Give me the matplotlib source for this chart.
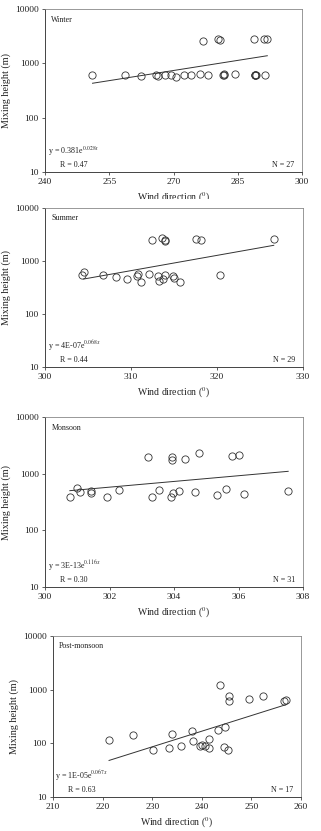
import matplotlib
matplotlib.use("Agg")
import matplotlib.pyplot as plt
from matplotlib.patches import Rectangle

plt.rcParams['font.family'] = ['Liberation Serif', 'DejaVu Serif']
plt.rcParams['mathtext.fontset'] = 'stix'

# Winter
winter_x = [251.0, 258.7, 262.5, 266.0, 266.4, 268.0, 269.5, 270.5, 272.4, 274.2, 276.1, 276.9,
            278.1, 280.5, 280.8, 281.6, 281.7, 284.4, 288.7, 289.0, 289.2, 289.1, 291.3, 291.1,
            291.8, 281.7, 289.1]
winter_y = [600, 600, 590, 620, 590, 620, 620, 550, 600, 620, 640, 2570,
            610, 2760, 2720, 620, 640, 640, 2760, 620, 600, 610, 620, 2800,
            2800, 610, 620]
winter_trend_x = [251.1, 291.9]
winter_trend_y = [430, 1380]

# Summer
summer_x = [304.3, 304.5, 306.7, 308.2, 309.5, 310.7, 310.8, 311.2, 312.1, 312.4, 313.1, 313.2,
            313.6, 313.7, 313.9, 314.0, 313.9, 314.9, 315.0, 315.7, 317.6, 318.1, 320.4, 326.6]
summer_y = [545, 630, 537, 506, 464, 520, 570, 396, 560, 2450, 520, 426,
            2680, 464, 2450, 2420, 552, 520, 477, 396, 2560, 2450, 552, 2560]
summer_trend_x = [304.5, 326.6]
summer_trend_y = [457, 1977]

# Monsoon
monsoon_x = [300.77, 300.98, 301.10, 301.42, 301.42, 301.91, 302.29, 303.18, 303.31, 303.55,
             303.93, 303.94, 303.91, 303.98, 304.14, 304.34, 304.65, 304.77, 305.34, 305.61,
             305.81, 306.00, 306.17, 307.54]
monsoon_y = [383, 551, 481, 462, 500, 393, 515, 1967, 393, 515,
             1967, 1765, 387, 457, 488, 1790, 474, 2318, 415, 536,
             2080, 2140, 437, 488]
monsoon_trend_x = [300.77, 307.54]
monsoon_trend_y = [501, 1100]

# Post-monsoon
post_x = [221.2, 226.2, 230.2, 233.4, 233.9, 235.9, 238.1, 238.2, 239.6, 240.0, 240.6, 241.4,
          241.5, 243.2, 244.5, 243.6, 244.7, 245.3, 245.4, 245.4, 249.6, 252.3, 256.6, 257.0]
post_y = [117, 141, 75, 82, 151, 90, 172, 109, 88, 94, 89, 119,
          82, 175, 84, 1200, 204, 74, 615, 760, 680, 760, 615, 630]
post_trend_x = [221.3, 257.0]
post_trend_y = [48, 527]

panels = [
    dict(x=winter_x, y=winter_y, tx=winter_trend_x, ty=winter_trend_y, name='Winter',
         eq=r'y = 0.381e$^{0.028x}$', r='R = 0.47', n='N = 27',
         xlim=(240, 300), xticks=[240, 255, 270, 285, 300], box=(45, 9, 302, 172)),
    dict(x=summer_x, y=summer_y, tx=summer_trend_x, ty=summer_trend_y, name='Summer',
         eq=r'y = 4E-07e$^{0.068x}$', r='R = 0.44', n='N = 29',
         xlim=(300, 330), xticks=[300, 310, 320, 330], box=(45, 208, 303, 367)),
    dict(x=monsoon_x, y=monsoon_y, tx=monsoon_trend_x, ty=monsoon_trend_y, name='Monsoon',
         eq=r'y = 3E-13e$^{0.116x}$', r='R = 0.30', n='N = 31',
         xlim=(300, 308), xticks=[300, 302, 304, 306, 308], box=(45, 417, 303, 587)),
    dict(x=post_x, y=post_y, tx=post_trend_x, ty=post_trend_y, name='Post-monsoon',
         eq=r'y = 1E-05e$^{0.067x}$', r='R = 0.63', n='N = 17',
         xlim=(210, 260), xticks=[210, 220, 230, 240, 250, 260], box=(53, 636, 301, 797)),
]

W, H = 321, 831
fig = plt.figure(figsize=(W / 100, H / 100), dpi=100)

for p in panels:
    l, t, r, b = p['box']
    ax = fig.add_axes([l / W, 1 - b / H, (r - l) / W, (b - t) / H])
    ax.set_yscale('log')
    ax.set_ylim(10, 10000)
    ax.set_xlim(*p['xlim'])
    ax.set_xticks(p['xticks'])
    ax.set_yticks([10, 100, 1000, 10000])
    ax.set_yticklabels(['10', '100', '1000', '10000'])
    ax.minorticks_off()
    ax.tick_params(labelsize=6.8, length=2.5, width=0.6, color='#444444', labelcolor='#222222', pad=2)
    for side in ['left', 'bottom']:
        ax.spines[side].set_color('#444444')
        ax.spines[side].set_linewidth(0.7)
    for side in ['top', 'right']:
        ax.spines[side].set_color('#888888')
        ax.spines[side].set_linewidth(0.6)
    ax.plot(p['x'], p['y'], 'o', mfc='none', mec='#333333', mew=0.6, ms=5.2)
    ax.plot(p['tx'], p['ty'], '-', color='#333333', lw=0.7)
    ax.set_ylabel('Mixing height (m)', fontsize=7.3, color='#222222', labelpad=3)
    ax.set_xlabel('Wind direction ($^{0}$)', fontsize=7.0, color='#222222', labelpad=3)
    ax.text(0.025, 0.96, p['name'], transform=ax.transAxes, fontsize=5.8, va='top', ha='left', color='#222222')
    ax.text(0.01, 0.085, p['eq'], transform=ax.transAxes, fontsize=5.8, va='bottom', ha='left', color='#222222')
    ax.text(0.06, 0.02, p['r'], transform=ax.transAxes, fontsize=5.8, va='bottom', ha='left', color='#222222')
    ax.text(0.97, 0.02, p['n'], transform=ax.transAxes, fontsize=5.8, va='bottom', ha='right', color='#222222')

# first panel's x-label is cut off by the panel below in the original
fig.patches.append(Rectangle((0, 1 - 205 / H), 1, 6 / H, transform=fig.transFigure,
                             facecolor='white', edgecolor='none', zorder=5))

fig.savefig('out.png', dpi=100, facecolor='white')
